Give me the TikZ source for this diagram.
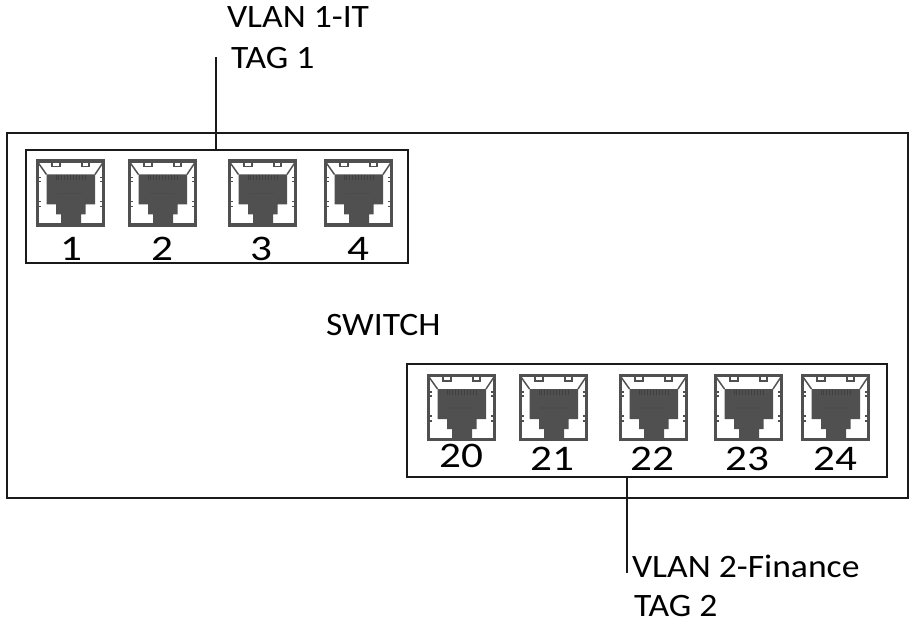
\documentclass[tikz,border=0pt]{standalone}
\usepackage{fontspec}
\setmainfont{Carlito}
\newfontfamily\lblfont[FakeStretch=1.09]{Carlito}
\newfontfamily\numfont[FakeStretch=1.2]{Carlito}
\definecolor{ink}{HTML}{1A1A1A}
\definecolor{port}{HTML}{505050}
\tikzset{
  x=0.75pt,y=-0.75pt,
  group box/.style={draw=ink,line width=1.2pt,anchor=north west,inner sep=0pt,outer sep=0pt},
  lead/.style={draw=ink,line width=1pt},
  lbl/.style={anchor=base west,inner sep=0pt,outer sep=0pt,text=black,font=\lblfont\fontsize{24.5}{28}\selectfont},
  num/.style={anchor=base,inner sep=0pt,outer sep=0pt,text=black,font=\numfont\fontsize{27}{28}\selectfont},
  rj45/.pic={
    \draw[port,line width=2.4pt,fill=white] (1.5,1.5) rectangle (67.5,65.5);
    \fill[port] (10.5,15)--(59,15)--(59,45)--(49.5,45)--(49.5,55)--(45,55)--(45,65)--(25,65)--(25,55)--(20,55)--(20,45)--(10.5,45)--cycle;
    \draw[port,line width=1.1pt] (2,3)--(10.5,15) (67,3)--(59,15);
    \draw[port,line width=1.1pt] (16,2.5)--(16,7)--(24,7)--(24,2.5) (46,2.5)--(46,7)--(53,7)--(53,2.5);
    \draw[port,line width=0.8pt] (2,18)--(5,18) (2,22)--(5,22) (2,42)--(5,42) (2,47)--(5,47)
      (64,18)--(67,18) (64,22)--(67,22) (64,42)--(67,42) (64,47)--(67,47);
    \foreach \i in {0,...,10} {\draw[black!75,line width=0.7pt] ({20+\i*2.9},15.5)--({20+\i*2.9},21);}
    \draw[black!70,line width=0.8pt] (21,34)--(47,34);
  }
}
\begin{document}
\begin{tikzpicture}
\useasboundingbox (0,0) rectangle (914,624);
\node[group box,minimum width=675.75pt,minimum height=273.75pt] (switch) at (7,133) {};
\node[group box,minimum width=286.5pt,minimum height=84.75pt] (vlanA) at (26,150) {};
\node[group box,minimum width=360pt,minimum height=84.75pt] (vlanB) at (407,364) {};
\foreach \px in {36,128,228,324} {\pic at (\px,159.5) {rj45};}
\foreach \px in {427,519,619,714,801} {\pic at (\px,374) {rj45};}
\node[num] (n1) at (71,260) {1};
\node[num] (n2) at (162,260) {2};
\node[num] (n3) at (261,260) {3};
\node[num] (n4) at (358,260) {4};
\node[num] (n20) at (461,467) {20};
\node[num] (n21) at (552,470) {21};
\node[num] (n22) at (652,470) {22};
\node[num] (n23) at (747,470) {23};
\node[num] (n24) at (835,470) {24};
\node[lbl] (sw) at (326,335) {SWITCH};
\node[lbl] (la) at (227,28) {VLAN 1-IT};
\node[lbl] (ta) at (231,69) {TAG 1};
\node[lbl] (lb) at (632,577) {VLAN 2-Finance};
\node[lbl] (tb) at (634,616) {TAG 2};
\coordinate (endA) at (216,57);
\coordinate (endB) at (627,573);
\draw[lead] (endA) -- (endA |- vlanA.north);
\draw[lead] (endB) -- (endB |- vlanB.south);
\end{tikzpicture}
\end{document}
